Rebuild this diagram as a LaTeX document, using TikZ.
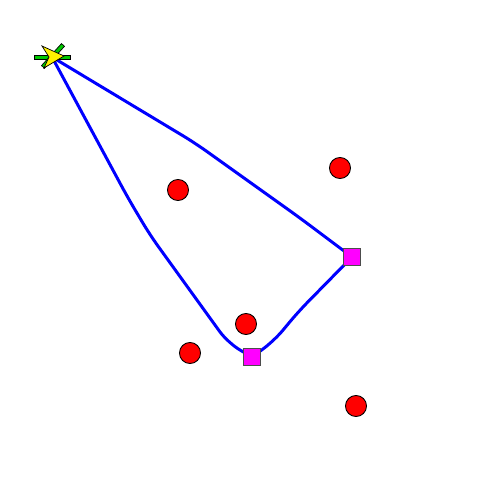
\documentclass[tikz,border=0pt]{standalone}
\usetikzlibrary{positioning}

\definecolor{haltpink}{RGB}{255,0,255}
\definecolor{depotgreen}{RGB}{0,200,0}

\tikzset{
  spot/.style={circle, draw=black, fill=red, minimum size=12pt, inner sep=0pt, line width=0.5pt},
  halt/.style={rectangle, draw=black!70, fill=haltpink, minimum size=9.2pt, inner sep=0pt, line width=0.5pt},
  route/.style={blue, line width=1.7pt, rounded corners=8pt}
}

\begin{document}
\begin{tikzpicture}[x=0.02cm, y=-0.02cm]
    \useasboundingbox (0,0) rectangle (500,500);

    \coordinate (start) at (52,57);
    \coordinate (s1)    at (352,257);
    \coordinate (s2)    at (252,357);

    % tour
    \draw[route] (start) -- (195,143) -- (300,218) -- (s1.center);
    \draw[route] (s1.center) -- (298,312) -- (274,341) -- (s2.center);
    \draw[route] (s2.center) -- (228,343) -- (150,235) -- (128,198) -- (start);

    % points
    \node[spot] (p1) at (178,190) {};
    \node[spot] (p2) at (340,168) {};
    \node[spot] (p3) at (246,324) {};
    \node[spot] (p4) at (190,353) {};
    \node[spot] (p5) at (356,406) {};

    \node[halt] (h1) at (s1) {};
    \node[halt] (h2) at (s2) {};

    % depot
    \draw[black, fill=depotgreen, line width=0.4pt] (34,55) rectangle (70,59);
    \draw[black, fill=depotgreen, line width=0.4pt] (44.5,68.3) -- (41.5,65.6) -- (61.5,43.6) -- (64.5,46.3) -- cycle;
    \draw[black, fill=yellow, line width=0.4pt] (64,56) -- (42,46) -- (49,57) -- (44,68) -- cycle;
\end{tikzpicture}
\end{document}
